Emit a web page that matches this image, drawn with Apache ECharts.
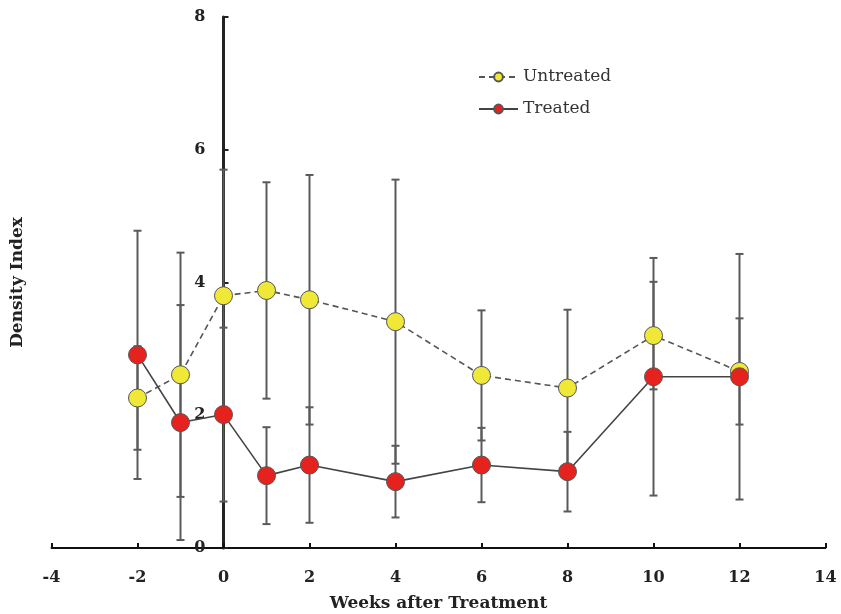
<!DOCTYPE html>
<html>
<head>
<meta charset="utf-8">
<script src="https://cdn.jsdelivr.net/npm/echarts@6/dist/echarts.min.js"></script>
<style>
html,body{margin:0;padding:0;background:#fff;}
#chart{width:841px;height:614px;}
</style>
</head>
<body>
<div id="chart"></div>
<script>
const weeks = [-2, -1, 0, 1, 2, 4, 6, 8, 10, 12];
const untreated = [2.26, 2.61, 3.80, 3.88, 3.74, 3.41, 2.60, 2.41, 3.20, 2.66];
const untreatedErr = [0.78, 1.84, 1.90, 1.63, 1.88, 2.14, 0.98, 1.18, 0.81, 0.80];
const treated = [2.91, 1.89, 2.01, 1.09, 1.25, 1.00, 1.25, 1.15, 2.58, 2.58];
const treatedErr = [1.87, 1.77, 1.31, 0.73, 0.87, 0.54, 0.56, 0.60, 1.79, 1.85];
const xTicks = [-4, -2, 0, 2, 4, 6, 8, 10, 12, 14];
const yTicks = [0, 2, 4, 6, 8];

const serif = 'DejaVu Serif';

const W = 841, gridLeft = 51.5, gridRight = 15.5;
const xMin = xTicks[0], xMax = xTicks[xTicks.length - 1];
// place the y axis line on x = 0 (layout only)
const yAxisOffset = -((0 - xMin) / (xMax - xMin)) * (W - gridLeft - gridRight);

function pairs(ys) { return weeks.map((x, i) => [x, ys[i]]); }
function errData(ys, es) { return weeks.map((x, i) => [x, ys[i] - es[i], ys[i] + es[i]]); }

function renderErr(params, api) {
  const x = api.value(0);
  const lo = api.coord([x, api.value(1)]);
  const hi = api.coord([x, api.value(2)]);
  const hw = 4;
  const st = { stroke: '#5a5a5a', lineWidth: 2 };
  return {
    type: 'group',
    children: [
      { type: 'line', shape: { x1: lo[0], y1: lo[1], x2: hi[0], y2: hi[1] }, style: st },
      { type: 'line', shape: { x1: lo[0] - hw, y1: lo[1], x2: lo[0] + hw, y2: lo[1] }, style: st },
      { type: 'line', shape: { x1: hi[0] - hw, y1: hi[1], x2: hi[0] + hw, y2: hi[1] }, style: st }
    ]
  };
}

const chart = echarts.init(document.getElementById('chart'), null, { renderer: 'canvas' });
chart.setOption({
  animation: false,
  backgroundColor: '#fff',
  grid: { left: gridLeft, right: gridRight, top: 17, bottom: 66, containLabel: false, outerBoundsMode: 'none' },
  legend: {
    data: ['Untreated', 'Treated'],
    orient: 'vertical',
    left: 473,
    top: 62,
    itemWidth: 39,
    itemHeight: 11,
    itemGap: 12,
    textStyle: { fontFamily: serif, fontSize: 17, color: '#333', lineHeight: 20 }
  },
  xAxis: {
    type: 'value',
    min: xMin,
    max: xMax,
    interval: 2,
    splitLine: { show: false },
    axisLine: { onZero: false, lineStyle: { color: '#111', width: 2 } },
    axisTick: { inside: true, length: 5, lineStyle: { color: '#111', width: 2 } },
    axisLabel: { fontFamily: serif, fontWeight: 'bold', fontSize: 16, color: '#222', margin: 22 },
    name: 'Weeks after Treatment',
    nameLocation: 'middle',
    nameGap: 47,
    nameTextStyle: { fontFamily: serif, fontWeight: 'bold', fontSize: 17, color: '#222' }
  },
  yAxis: {
    type: 'value',
    min: yTicks[0],
    max: yTicks[yTicks.length - 1],
    interval: 2,
    offset: yAxisOffset,
    splitLine: { show: false },
    axisLine: { show: true, onZero: false, lineStyle: { color: '#222', width: 3 } },
    axisTick: { show: true, inside: true, length: 5, lineStyle: { color: '#222', width: 2 } },
    axisLabel: { fontFamily: serif, fontWeight: 'bold', fontSize: 16, color: '#222', margin: 18 },
    name: 'Density Index',
    nameLocation: 'middle',
    nameGap: 197,
    nameRotate: 90,
    nameTextStyle: { fontFamily: serif, fontWeight: 'bold', fontSize: 17, color: '#222' }
  },
  series: [
    {
      type: 'custom',
      name: 'errU',
      renderItem: renderErr,
      data: errData(untreated, untreatedErr),
      encode: { x: 0, y: [1, 2] },
      z: 1,
      silent: true
    },
    {
      type: 'custom',
      name: 'errT',
      renderItem: renderErr,
      data: errData(treated, treatedErr),
      encode: { x: 0, y: [1, 2] },
      z: 1,
      silent: true
    },
    {
      type: 'line',
      name: 'Untreated',
      data: pairs(untreated),
      symbol: 'circle',
      symbolSize: 18,
      showAllSymbol: true,
      lineStyle: { color: '#555', width: 1.6, type: [6, 4] },
      itemStyle: { color: '#f0e836', borderColor: '#555', borderWidth: 1 },
      z: 3
    },
    {
      type: 'line',
      name: 'Treated',
      data: pairs(treated),
      symbol: 'circle',
      symbolSize: 18,
      showAllSymbol: true,
      lineStyle: { color: '#444', width: 1.6 },
      itemStyle: { color: '#e6221e', borderColor: '#555', borderWidth: 1 },
      z: 4
    }
  ]
});
</script>
</body>
</html>
